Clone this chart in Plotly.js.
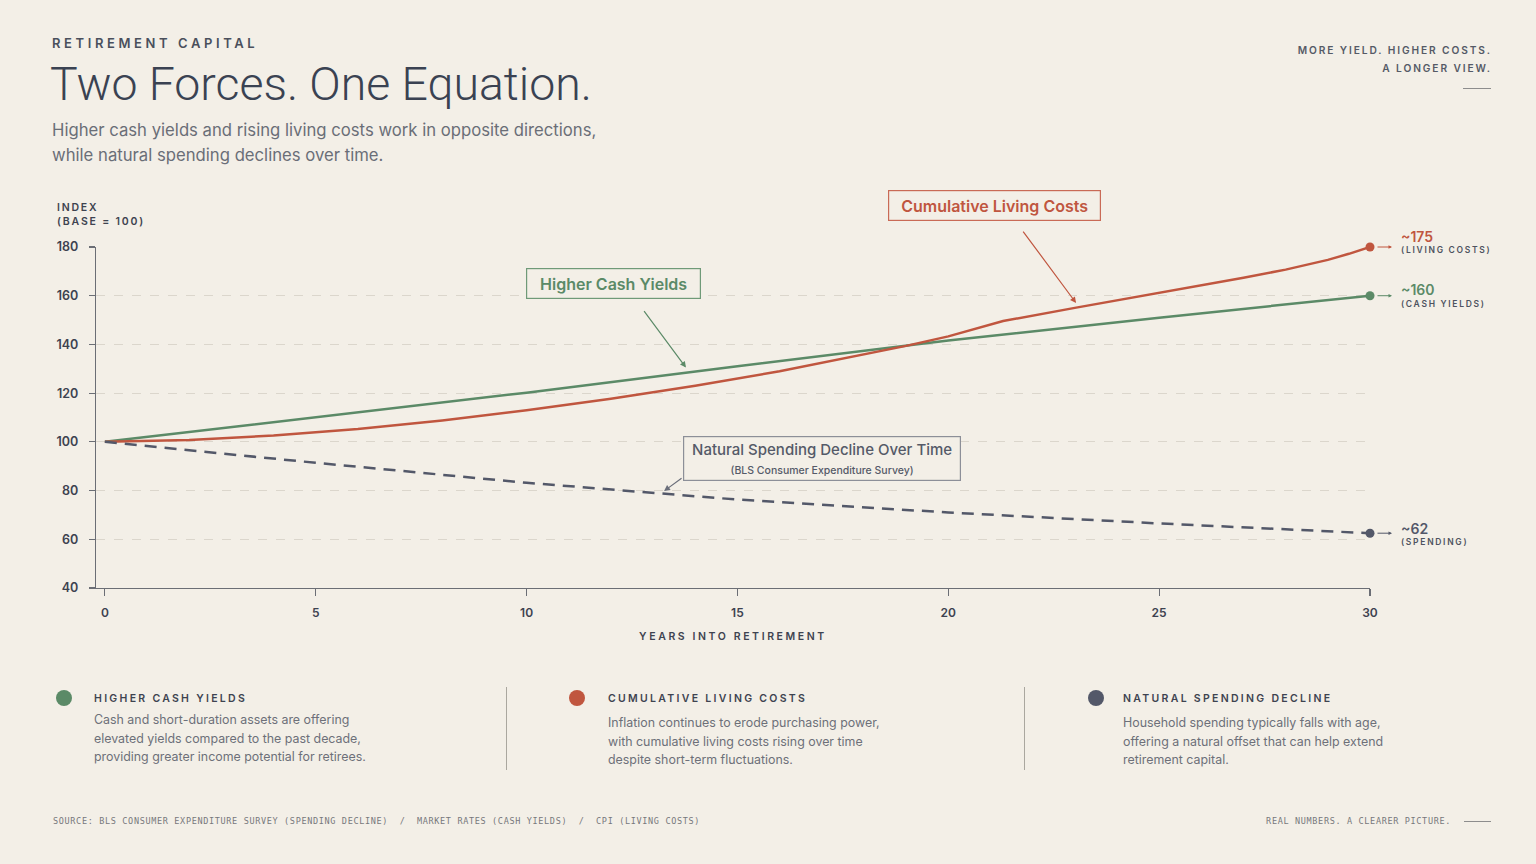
<!DOCTYPE html>
<html>
<head>
<meta charset="utf-8">
<script src="https://cdn.plot.ly/plotly-3.0.1.min.js"></script>
<style>
  body { margin: 0; background: #f3efe7; }
  #page { position: relative; width: 1536px; height: 864px; background: #f3efe7; font-family: Inter, "Noto Sans", sans-serif; overflow: hidden; }
  #chart { position: absolute; left: 0; top: 0; width: 1536px; height: 864px; }
  .abs { position: absolute; white-space: nowrap; }
  .kicker { left: 52px; top: 35px; font-size: 13px; font-weight: 600; letter-spacing: 3.6px; color: #4a4f5c; }
  .title { left: 50px; top: 57px; font-family: Roboto, Inter, sans-serif; font-size: 46.4px; font-weight: 300; color: #3a4252; }
  .sub { left: 52px; top: 118px; font-size: 16.7px; line-height: 25px; color: #6a6e77; }
  .tag { right: 44px; top: 41px; text-align: right; font-size: 10.2px; font-weight: 600; letter-spacing: 1.9px; line-height: 18px; color: #555a66; }
  .rule { position: absolute; height: 1px; background: #8d8d8d; }
  .card { position: absolute; top: 688px; }
  .card .dot { position: absolute; left: 0; top: 2px; width: 16px; height: 16px; border-radius: 50%; }
  .card .hd { position: absolute; left: 38px; top: 4px; font-size: 10.5px; font-weight: 600; letter-spacing: 2.3px; color: #3e4350; white-space: nowrap; }
  .card .tx { position: absolute; left: 38px; top: 23px; font-size: 12.4px; line-height: 18.5px; color: #6d7079; white-space: nowrap; }
  .sep { position: absolute; top: 687px; width: 1px; height: 83px; background: #aaa79f; }
  .foot { top: 816px; font-family: "DejaVu Sans Mono", monospace; font-size: 8.5px; letter-spacing: 0.66px; color: #77787c; white-space: pre; }
</style>
</head>
<body>
<div id="page">
  <div id="chart"></div>

  <div class="abs kicker">RETIREMENT CAPITAL</div>
  <div class="abs title">Two Forces. One Equation.</div>
  <div class="abs sub">Higher cash yields and rising living costs work in opposite directions,<br>while natural spending declines over time.</div>
  <div class="abs tag">MORE YIELD. HIGHER COSTS.<br>A LONGER VIEW.</div>
  <div class="rule" style="left:1463px; top:88px; width:28px;"></div>

  <div class="card" style="left:56px;">
    <div class="dot" style="background:#5b8a67;"></div>
    <div class="hd">HIGHER CASH YIELDS</div>
    <div class="tx">Cash and short-duration assets are offering<br>elevated yields compared to the past decade,<br>providing greater income potential for retirees.</div>
  </div>
  <div class="sep" style="left:506px;"></div>
  <div class="card" style="left:569px;">
    <div class="dot" style="background:#c0563f;"></div>
    <div class="hd" style="left:39px;">CUMULATIVE LIVING COSTS</div>
    <div class="tx" style="left:39px; top:26px;">Inflation continues to erode purchasing power,<br>with cumulative living costs rising over time<br>despite short-term fluctuations.</div>
  </div>
  <div class="sep" style="left:1024px;"></div>
  <div class="card" style="left:1088px;">
    <div class="dot" style="background:#535869;"></div>
    <div class="hd" style="left:35px;">NATURAL SPENDING DECLINE</div>
    <div class="tx" style="left:35px; top:26px;">Household spending typically falls with age,<br>offering a natural offset that can help extend<br>retirement capital.</div>
  </div>

  <div class="abs foot" style="left:53px;">SOURCE: BLS CONSUMER EXPENDITURE SURVEY (SPENDING DECLINE)  /  MARKET RATES (CASH YIELDS)  /  CPI (LIVING COSTS)</div>
  <div class="abs foot" style="right:85px;">REAL NUMBERS. A CLEARER PICTURE.</div>
  <div class="rule" style="left:1464px; top:821px; width:27px;"></div>
</div>

<script>
// valeurs (indice, base = 100)
const cashYears = [0, 5, 10, 15, 20, 25, 30];
const cashIndex = [100, 110, 120.2, 131, 141.6, 151, 160];

const costYears = [0, 2, 4, 6, 8, 10, 12, 14, 16, 18, 19, 20, 21.3, 23, 24.5, 26, 27, 28, 28.5, 29, 29.5, 30];
const costIndex = [100, 100.8, 102.6, 105.3, 108.8, 113, 117.7, 123, 129, 135.8, 139.4, 143.3, 149.6, 155, 159.6, 164.4, 167.4, 170.7, 172.6, 174.7, 177.2, 180];

const spendYears = [0, 5, 10, 15, 20, 25, 30];
const spendIndex = [100, 91.4, 83.2, 76.3, 71, 66.5, 62.5];

const endValues = ['~160', '~175', '~62'];
const endTags = ['(CASH YIELDS)', '(LIVING COSTS)', '(SPENDING)'];

const yTicks = [40, 60, 80, 100, 120, 140, 160, 180];
const xTicks = [0, 5, 10, 15, 20, 25, 30];

const GREEN = '#5b8a67';
const RED = '#c0563f';
const GREY = '#535869';
const INK = '#3d4250';

function last(a) { return a[a.length - 1]; }

let traces = [
    { x: cashYears, y: cashIndex, mode: 'lines', line: { color: GREEN, width: 2.5 }, hoverinfo: 'skip' },
    { x: costYears, y: costIndex, mode: 'lines', line: { color: RED, width: 2.5 }, hoverinfo: 'skip' },
    { x: spendYears, y: spendIndex, mode: 'lines', line: { color: GREY, width: 2.5, dash: '12px,8px' }, hoverinfo: 'skip' },
    // points de fin
    { x: [last(cashYears), last(costYears), last(spendYears)],
      y: [last(cashIndex), last(costIndex), last(spendIndex)],
      mode: 'markers', marker: { size: 9, color: [GREEN, RED, GREY] }, cliponaxis: false, hoverinfo: 'skip' }
];

let ends = [
    { x: last(cashYears), y: last(cashIndex), c: GREEN, dy1: 6, dy2: -8 },
    { x: last(costYears), y: last(costIndex), c: RED, dy1: 11, dy2: -3 },
    { x: last(spendYears), y: last(spendIndex), c: GREY, dy1: 5, dy2: -9 }
];

let annotations = [];
ends.forEach(function (e, i) {
    annotations.push({ x: e.x, y: e.y, xref: 'x', yref: 'y', xshift: 22, ax: -16, ay: 0,
        text: '', showarrow: true, arrowhead: 2, arrowsize: 0.7, arrowwidth: 1, arrowcolor: e.c });
    annotations.push({ x: e.x, y: e.y, xref: 'x', yref: 'y', xshift: 29, yshift: e.dy1, xanchor: 'left', yanchor: 'middle',
        showarrow: false, text: endValues[i], font: { family: 'Inter', size: 14, weight: 600, color: e.c } });
    annotations.push({ x: e.x, y: e.y, xref: 'x', yref: 'y', xshift: 29, yshift: e.dy2, xanchor: 'left', yanchor: 'middle',
        showarrow: false, text: '<span style="letter-spacing:1.7px">' + endTags[i] + '</span>',
        font: { family: 'Inter', size: 8.5, weight: 600, color: '#4e5360' } });
});

// encadrés
annotations.push({ x: 12.06, y: 165, xref: 'x', yref: 'y', showarrow: false, text: 'Higher Cash Yields',
    width: 173, height: 29, borderpad: 0, bordercolor: '#6f9a78', borderwidth: 1.2, bgcolor: '#f3efe7',
    font: { family: 'Inter', size: 16, weight: 600, color: GREEN } });
annotations.push({ x: 21.09, y: 1.1217, xref: 'x', yref: 'paper', yanchor: 'middle', showarrow: false, text: 'Cumulative Living Costs',
    width: 211, height: 29, borderpad: 0, bordercolor: '#c96a56', borderwidth: 1.2, bgcolor: '#f3efe7',
    font: { family: 'Inter', size: 16, weight: 600, color: RED } });
annotations.push({ x: 17.0, y: 93.2, xref: 'x', yref: 'y', showarrow: false,
    text: 'Natural Spending Decline Over Time<br><span style="font-size:10.5px">(BLS Consumer Expenditure Survey)</span>',
    width: 276, height: 43, borderpad: 0, bordercolor: '#8c8f98', borderwidth: 1.2, bgcolor: '#f3efe7',
    font: { family: 'Inter', size: 15, weight: 500, color: '#555a68' } });

// flèches
annotations.push({ x: 13.78, y: 130.5, xref: 'x', yref: 'y', ax: -43, ay: -58, text: '', showarrow: true,
    arrowhead: 2, arrowsize: 1, arrowwidth: 1.2, arrowcolor: GREEN });
annotations.push({ x: 23.03, y: 157, xref: 'x', yref: 'y', ax: -54, ay: -73, text: '', showarrow: true,
    arrowhead: 2, arrowsize: 1, arrowwidth: 1.2, arrowcolor: RED });
annotations.push({ x: 13.26, y: 79.8, xref: 'x', yref: 'y', ax: 19, ay: -14, text: '', showarrow: true,
    arrowhead: 2, arrowsize: 1, arrowwidth: 1.2, arrowcolor: '#6a6e7a' });

// titre axe y
annotations.push({ x: -0.032, y: 1.0953, xref: 'paper', yref: 'paper', xanchor: 'left', yanchor: 'middle', align: 'left',
    showarrow: false, text: '<span style="letter-spacing:1.8px">INDEX<br>(BASE = 100)</span>',
    font: { family: 'Inter', size: 10.5, weight: 600, color: '#3e4350' } });

let layout = {
    width: 1536, height: 864,
    margin: { l: 96, r: 166, t: 247, b: 276 },
    paper_bgcolor: 'rgba(0,0,0,0)', plot_bgcolor: 'rgba(0,0,0,0)',
    showlegend: false,
    font: { family: 'Inter', color: INK },
    xaxis: {
        range: [-0.21, 30], tickvals: xTicks, ticks: 'outside', ticklen: 7, tickcolor: '#6b6e75', tickwidth: 1.2,
        showline: true, linecolor: '#6b6e75', linewidth: 1.2, showgrid: false, zeroline: false,
        tickfont: { family: 'Inter', size: 12, weight: 600, color: INK }, ticklabelstandoff: 6,
        title: { text: '<span style="letter-spacing:2.6px">YEARS INTO RETIREMENT</span>', standoff: 14,
            font: { family: 'Inter', size: 10.5, weight: 600, color: '#3e4350' } }
    },
    yaxis: {
        range: [40, 180], tickvals: yTicks, ticks: 'outside', ticklen: 6, tickcolor: '#6b6e75', tickwidth: 1.2,
        showline: true, linecolor: '#6b6e75', linewidth: 1.2, zeroline: false,
        showgrid: true, gridcolor: '#dbd6cc', gridwidth: 1, griddash: 'dash',
        tickfont: { family: 'Inter', size: 12.5, weight: 600, color: INK }, ticklabelstandoff: 8
    },
    annotations: annotations
};

Plotly.newPlot('chart', traces, layout, { displayModeBar: false, staticPlot: true });
</script>
</body>
</html>
